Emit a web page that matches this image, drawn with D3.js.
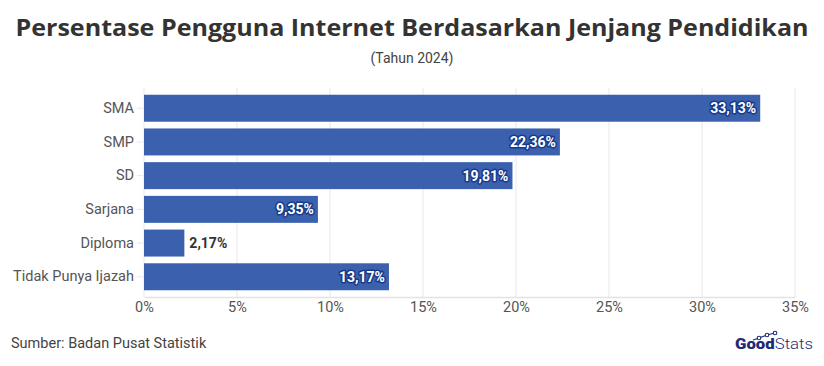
<!DOCTYPE html>
<html>
<head>
<meta charset="utf-8">
<script src="https://cdn.jsdelivr.net/npm/d3@7"></script>
<style>
  body { margin: 0; background: #fff; }
  svg { font-family: Roboto, "Noto Sans", sans-serif; }
</style>
</head>
<body>
<div id="chart"></div>
<script>
// data
const categories = ["SMA", "SMP", "SD", "Sarjana", "Diploma", "Tidak Punya Ijazah"];
const values = [33.13, 22.36, 19.81, 9.35, 2.17, 13.17];
const ticks = [0, 5, 10, 15, 20, 25, 30, 35];

const W = 824, H = 366;
const margin = { top: 88, right: 29, bottom: 69, left: 144 };

const svg = d3.select("#chart").append("svg").attr("width", W).attr("height", H);

svg.append("text")
  .attr("x", W / 2).attr("y", 36)
  .attr("text-anchor", "middle")
  .attr("font-family", "'Open Sans', sans-serif")
  .attr("font-size", 24).attr("font-weight", 700)
  .attr("fill", "#333")
  .attr("textLength", 793).attr("lengthAdjust", "spacingAndGlyphs")
  .text("Persentase Pengguna Internet Berdasarkan Jenjang Pendidikan");

svg.append("text")
  .attr("x", W / 2).attr("y", 63)
  .attr("text-anchor", "middle")
  .attr("font-size", 14)
  .attr("fill", "#444")
  .text("(Tahun 2024)");

const x = d3.scaleLinear().domain([0, 35]).range([margin.left, W - margin.right]);
const y = d3.scaleBand().domain(categories).range([margin.top, H - margin.bottom]).padding(0.2);

// gridlines
svg.append("g").selectAll("line").data(ticks).join("line")
  .attr("x1", d => x(d)).attr("x2", d => x(d))
  .attr("y1", margin.top).attr("y2", H - margin.bottom)
  .attr("stroke", "#e8e8e8");

// x axis
const xAxis = svg.append("g")
  .attr("transform", `translate(0,${H - margin.bottom})`)
  .call(d3.axisBottom(x).tickValues(ticks).tickFormat(d => d + "%").tickSize(0).tickPadding(5));
xAxis.select(".domain").attr("stroke", "#e3e3e3").attr("stroke-width", 1.5);
xAxis.selectAll("text").attr("font-size", 14.5).attr("fill", "#555").attr("font-family", "Roboto, sans-serif");

// y axis
const yAxis = svg.append("g")
  .attr("transform", `translate(${margin.left},0)`)
  .call(d3.axisLeft(y).tickSize(7).tickPadding(3));
yAxis.select(".domain").remove();
yAxis.selectAll("line").attr("stroke", "#e8e8e8");
yAxis.selectAll("text").attr("font-size", 14.5).attr("fill", "#555").attr("font-family", "Roboto, sans-serif");

// bars
svg.append("g").selectAll("rect").data(values).join("rect")
  .attr("x", x(0))
  .attr("y", (d, i) => y(categories[i]))
  .attr("width", d => x(d) - x(0))
  .attr("height", y.bandwidth())
  .attr("fill", "#3a60ae");

// labels
const fmt = d => d.toFixed(2).replace(".", ",") + "%";
svg.append("g").selectAll("text").data(values).join("text")
  .attr("x", d => d > 5 ? x(d) - 4 : x(d) + 5)
  .attr("y", (d, i) => y(categories[i]) + y.bandwidth() / 2)
  .attr("dy", "0.35em")
  .attr("text-anchor", d => d > 5 ? "end" : "start")
  .attr("font-size", 14).attr("font-weight", 700)
  .attr("fill", d => d > 5 ? "#fff" : "#333")
  .attr("stroke", d => d > 5 ? "#183a8a" : "none")
  .attr("stroke-width", 3)
  .attr("paint-order", "stroke")
  .attr("stroke-linejoin", "round")
  .text(fmt);

// footer
svg.append("text")
  .attr("x", 11).attr("y", 348)
  .attr("font-size", 14.5).attr("fill", "#444")
  .text("Sumber: Badan Pusat Statistik");

const logo = svg.append("g").attr("transform", "translate(735,349)");
const lt = logo.append("text").attr("font-size", 15).attr("fill", "#1e2a78")
  .attr("textLength", 78).attr("lengthAdjust", "spacingAndGlyphs");
lt.append("tspan").attr("font-weight", 900).text("Good");
lt.append("tspan").attr("font-weight", 300).text("Stats");
const pts = [[18, -9], [24, -11], [32, -14], [40, -16]];
logo.append("path")
  .attr("d", d3.line()(pts))
  .attr("fill", "none").attr("stroke", "#1e2a78").attr("stroke-width", 1.2);
pts.slice(1).forEach(p => {
  logo.append("circle").attr("cx", p[0]).attr("cy", p[1]).attr("r", 1.8)
    .attr("fill", "#fff").attr("stroke", "#1e2a78").attr("stroke-width", 1.1);
});
</script>
</body>
</html>
